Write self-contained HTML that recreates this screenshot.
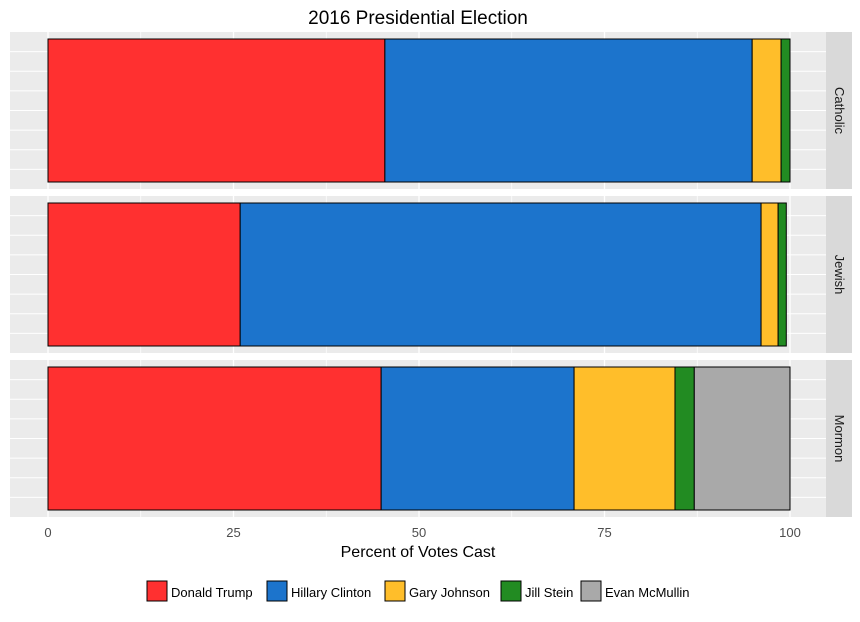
<!DOCTYPE html>
<html><head><meta charset="utf-8"><style>
body{margin:0;background:#fff;font-family:"Liberation Sans",sans-serif;}
</style></head><body>
<svg id="chart" width="860" height="617" xmlns="http://www.w3.org/2000/svg">
<text x="418" y="24" text-anchor="middle" font-size="19" fill="#000">2016 Presidential Election</text>
<g id="panels"></g>
<text x="418" y="557" text-anchor="middle" font-size="16" fill="#000">Percent of Votes Cast</text>
<g id="legend"></g>
</svg>
<script>
const groups = ["Catholic","Jewish","Mormon"];
const candidates = ["Donald Trump","Hillary Clinton","Gary Johnson","Jill Stein","Evan McMullin"];
const colors = ["#ff3030","#1c74cc","#ffbe2a","#228b22","#a9a9a9"];
const catholic = [45.4,49.5,3.9,1.2,0];
const jewish = [25.9,70.2,2.3,1.1,0];
const mormon = [44.9,26.0,13.6,2.6,12.9];
const values = [catholic, jewish, mormon];
const xTicks = [0,25,50,75,100];

const NS="http://www.w3.org/2000/svg";
const x0=48, x1=790;
const xs = v => x0 + (x1-x0)*v/100;
const panelL=10, panelR=826, stripR=852;
const panelTop=[32,196,360], panelH=157;
const panels=document.getElementById('panels');
function mk(tag,attrs,parent){const e=document.createElementNS(NS,tag);for(const k in attrs)e.setAttribute(k,attrs[k]);parent.appendChild(e);return e;}

groups.forEach((g,gi)=>{
  const top=panelTop[gi];
  const pg=mk('g',{},panels);
  
  
  const bg=mk('rect',{x:panelL,y:top,width:panelR-panelL,height:panelH,fill:'#ebebeb'},pg);
  
  
  for(let i=1;i<=7;i++){
    const y=top+panelH*i/8;
    mk('line',{x1:panelL,x2:panelR,y1:y,y2:y,stroke:'#fff','stroke-width':1},pg);
  }
  for(let v=0;v<=100;v+=12.5){
    mk('line',{x1:xs(v),x2:xs(v),y1:top,y2:top+panelH,stroke:'#fff','stroke-width':(v%25===0)?1.3:0.7},pg);
  }
  let acc=0;
  values[gi].forEach((v,ci)=>{
    if(v<=0)return;
    const r=mk('rect',{x:xs(acc),y:top+7,width:xs(acc+v)-xs(acc),height:panelH-14,fill:colors[ci],stroke:'#000','stroke-width':1},pg);
    
    
    acc+=v;
  });
  const s=mk('rect',{x:panelR,y:top,width:stripR-panelR,height:panelH,fill:'#d9d9d9'},pg);
  
  
  const t=mk('text',{x:0,y:0,'font-size':13,fill:'#1a1a1a','text-anchor':'middle',transform:`translate(${(panelR+stripR)/2-4},${top+panelH/2}) rotate(90)`},pg);
  t.textContent=g;
  
  
});
xTicks.forEach(v=>{
  const t=mk('text',{x:xs(v),y:537,'font-size':13,fill:'#4d4d4d','text-anchor':'middle'},panels);
  t.textContent=v;
  
  
});
const legend=document.getElementById('legend');
const lx=[147,267,385,501,581];
candidates.forEach((c,i)=>{
  const lg=mk('g',{},legend);
  
  
  mk('rect',{x:lx[i],y:581,width:20,height:20,fill:colors[i],stroke:'#000','stroke-width':1},lg);
  const t=mk('text',{x:lx[i]+24,y:597,'font-size':13,fill:'#000'},lg);
  t.textContent=c;
});
</script>
</body></html>
